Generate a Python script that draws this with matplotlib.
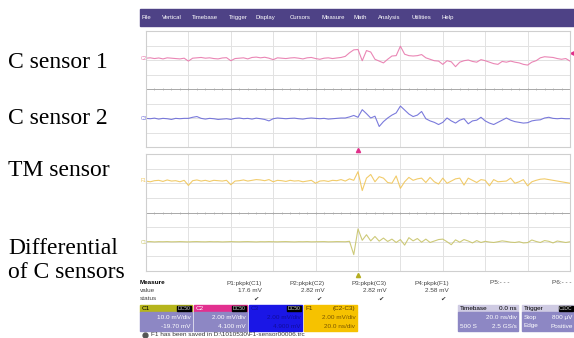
import numpy as np
import matplotlib
matplotlib.use('Agg')
import matplotlib.pyplot as plt
from matplotlib.patches import Rectangle

# timebase 20 ns/div, 10 divisions, trigger at 0
t_ns = np.linspace(-100, 100, 101)

# C sensor 1 (C2), mV
sensor1_mv = [0.05, 0.1, 0.0, 0.08, -0.05, 0.1, 0.05, 0.0, -0.05, 0.05,
              -0.35, 0.05, 0.1, 0.15, 0.05, 0.1, 0.0, -0.05, 0.08, 0.12,
              -0.3, 0.0, 0.05, 0.1, -0.05, 0.15, 0.2, 0.1, 0.18, 0.05,
              -0.15, 0.1, 0.05, 0.0, 0.08, 0.12, 0.05, -0.05, 0.1, 0.15,
              0.0, -0.1, 0.05, 0.1, 0.0, 0.08, 0.15, 0.3, 0.8, 1.2,
              1.25, -0.3, 1.1, 0.9, -0.1, -0.35, -0.6, -0.1, 0.35, 0.4,
              1.7, 0.6, 0.4, 0.35, 0.4, 0.55, 0.1, -0.1, -0.3, -0.35,
              -0.8, -0.3, -0.45, -1.12, -0.5, -0.3, -0.2, -0.4, -0.5, -0.15,
              -0.3, -0.5, -0.7, -0.8, -0.4, -0.5, -0.35, -0.5, -0.6, -0.8,
              -0.9, -0.5, -0.3, 0.1, 0.25, 0.2, 0.15, 0.0, -0.1, 0.0, -0.35]

# C sensor 2 (C3), mV
sensor2_mv = [0.05, 0.0, 0.08, -0.05, 0.05, 0.0, -0.1, 0.05, 0.0, 0.05,
              0.05, 0.2, 0.3, 0.05, -0.05, 0.05, 0.0, -0.1, -0.05, 0.0,
              -0.1, 0.05, 0.1, 0.0, 0.05, -0.05, 0.08, 0.0, -0.1, -0.3,
              0.0, 0.1, 0.05, 0.0, 0.05, 0.08, 0.0, -0.05, 0.05, 0.1,
              0.05, 0.0, 0.05, -0.05, 0.0, 0.05, 0.1, 0.1, 0.25, 0.45,
              0.2, 1.25, 0.7, 0.1, 0.35, -1.07, -0.4, 0.1, 0.5, 0.8,
              1.75, 1.2, 0.65, 0.3, 0.5, 1.0, 0.0, -0.3, -0.5, -0.8,
              -0.5, 0.1, -0.3, -0.6, -0.2, 0.0, -0.7, -0.3, -0.2, 0.2,
              -0.3, -0.6, -0.8, -0.5, -0.2, 0.1, -0.2, -0.4, -0.5, -0.6,
              -0.55, -0.3, -0.2, -0.15, 0.1, 0.2, 0.05, 0.0, 0.05, 0.0, 0.0]

# TM sensor, mV
tm_mv = [0.1, 0.0, 0.15, 0.2, 0.05, 0.25, 0.1, 0.15, 0.0, 0.2,
         -0.5, 0.15, 0.25, 0.1, 0.2, 0.05, 0.2, 0.15, 0.1, 0.2,
         -0.4, 0.1, 0.15, 0.25, 0.1, 0.2, 0.3, 0.25, 0.15, 0.3,
         0.0, 0.2, 0.15, 0.05, 0.2, 0.1, 0.15, 0.0, 0.1, 0.2,
         -0.2, 0.1, 0.15, 0.05, 0.2, 0.15, 0.3, 0.1, 0.4, 0.2,
         1.38, -1.2, 0.5, 1.0, 0.0, 0.7, 0.5, -0.1, -0.2, 0.8,
         -0.9, 0.0, 0.6, 0.2, 0.4, 0.5, -0.1, 0.6, 0.0, -0.3,
         0.5, -0.2, 0.1, 0.4, 0.5, -0.45, 0.5, 0.2, -0.1, 0.3,
         0.2, -0.55, 0.3, 0.0, 0.05, 0.1, 0.5, -0.2, 0.0, 0.3,
         -0.55, 0.0, 0.2, 0.35, 0.4, 0.3, 0.2, 0.1, 0.0, -0.1, -0.2]

# differential of C sensors, mV
diff_mv = [0.0, 0.1, -0.1, 0.05, 0.0, 0.1, -0.05, 0.0, 0.1, 0.0,
           -0.1, 0.05, 0.1, 0.0, -0.05, 0.1, 0.0, 0.05, -0.1, 0.0,
           0.1, 0.0, -0.05, 0.05, 0.1, 0.0, -0.1, 0.05, 0.0, 0.1,
           0.0, -0.05, 0.05, 0.1, 0.0, -0.1, 0.05, 0.0, 0.1, -0.05,
           0.0, 0.05, 0.1, -0.05, 0.0, 0.1, 0.05, 0.0, 0.3, -8.8,
           8.8, 1.0, 4.8, 0.6, 3.6, 0.4, 2.5, 0.2, 1.8, -0.5,
           1.5, -2.3, 2.8, 0.6, 2.2, -0.3, 1.8, -0.5, 0.5, 1.5,
           1.8, 0.0, -2.0, 1.3, -0.3, 1.5, 0.5, -0.8, 0.8, -0.5,
           0.3, -0.2, -0.5, 0.0, 0.6, 0.2, -0.3, -0.5, 0.0, -0.8,
           -0.6, 1.2, 0.2, -0.5, 0.8, 0.3, -0.8, 0.5, 0.0, -0.5, 0.0]

# trace setup: (values, mV/div, offset in div, colour, tag)
top_traces = [(sensor1_mv, 2.0, 2.1, '#e879ad', 'C2'),
              (sensor2_mv, 2.0, -2.05, '#6c6cd8', 'C3')]
bottom_traces = [(tm_mv, 2.0, 2.1, '#f0c65a', 'F1'),
                 (diff_mv, 10.0, -2.0, '#c8c46a', 'C1')]

row_labels = ['C sensor 1', 'C sensor 2', 'TM sensor', 'Differential', 'of C sensors']
label_y = [63, 118, 170, 248, 273]
menu_items = ['File', 'Vertical', 'Timebase', 'Trigger', 'Display', 'Cursors',
              'Measure', 'Math', 'Analysis', 'Utilities', 'Help']
menu_x = [142, 162, 192, 229, 256, 290, 322, 353, 378, 412, 441]

W, H = 574, 338
fig = plt.figure(figsize=(W / 100, H / 100), dpi=100)
ui = ['Liberation Sans', 'DejaVu Sans']


def px_axes(x0, y0, x1, y1):
    return fig.add_axes([x0 / W, 1 - y1 / H, (x1 - x0) / W, (y1 - y0) / H])


ov = fig.add_axes([0, 0, 1, 1])
ov.set_xlim(0, W)
ov.set_ylim(H, 0)
ov.axis('off')


def scope_panel(y0, y1, traces):
    ax = px_axes(146, y0, 570, y1)
    ax.set_xlim(-100, 100)
    ax.set_ylim(-4, 4)
    ax.set_xticks(np.arange(-100, 101, 20))
    ax.set_yticks(np.arange(-4, 5, 1))
    ax.grid(True, color='#e2e2e2', lw=0.7)
    ax.tick_params(length=0, labelbottom=False, labelleft=False)
    for s in ax.spines.values():
        s.set_color('#cfcfcf')
        s.set_linewidth(0.8)
    ax.axhline(0, color='#a9a9a9', lw=0.7)
    minor = np.arange(-100, 101, 4)
    ax.plot(minor, np.zeros_like(minor), '|', color='#a9a9a9', ms=2, mew=0.5)
    for vals, scale, off, col, tag in traces:
        ax.plot(t_ns, np.array(vals) / scale + off, color=col, lw=0.8, alpha=0.9)
    return ax


scope_panel(31, 147, top_traces)
scope_panel(154, 271, bottom_traces)

# channel tags on the left edge
for (vals, scale, off, col, tag), yc in zip(top_traces + bottom_traces, [58, 119, 181, 242]):
    ov.text(140.5, yc, tag, color=col, fontsize=3.5, family=ui, va='center', ha='left')

# trigger markers
ov.plot(358, 150, marker='^', color='#e0308a', ms=3)
ov.plot(358, 275, marker='^', color='#b5ae22', ms=3)
ov.plot(572, 53, marker='<', color='#e0308a', ms=2.5)

# menu bar
ov.add_patch(Rectangle((140, 9), 434, 17, color='#4e4286'))
for name, x in zip(menu_items, menu_x):
    ov.text(x, 17.5, name, color='white', fontsize=4.3, family=ui, va='center')

# row labels
for text, y in zip(row_labels, label_y):
    ov.text(8, y, text, fontsize=17, family=['Liberation Serif', 'DejaVu Serif'], va='center')

# measurement table
ov.text(140, 283, 'Measure', fontsize=4.6, family=ui, weight='bold', va='center')
ov.text(140, 291, 'value', fontsize=4.6, family=ui, color='#444', va='center')
ov.text(140, 299, 'status', fontsize=4.6, family=ui, color='#444', va='center')
meas = [('P1:pkpk(C1)', diff_mv, 262), ('P2:pkpk(C2)', sensor1_mv, 325),
        ('P3:pkpk(C3)', sensor2_mv, 387), ('P4:pkpk(F1)', tm_mv, 449)]
for name, vals, xr in meas:
    ov.text(xr, 283, name, fontsize=4.6, family=ui, color='#444', ha='right', va='center')
    ov.text(xr, 291, '%.3g mV' % np.ptp(vals), fontsize=4.6, family=ui, color='#444',
            ha='right', va='center')
    ov.text(xr - 3, 299, '\u2714', fontsize=4.6, family=['DejaVu Sans'], color='#333',
            ha='right', va='center')
ov.text(510, 283, 'P5:- - -', fontsize=4.6, family=ui, color='#444', ha='right', va='center')
ov.text(571, 283, 'P6:- - -', fontsize=4.6, family=ui, color='#444', ha='right', va='center')


def info_box(x0, w, head_col, body_col, name, tag, lines, txt_col, head_txt='black',
             head_right=None):
    ov.add_patch(Rectangle((x0, 305), w, 7, color=head_col))
    ov.add_patch(Rectangle((x0, 312), w, 19, color=body_col))
    ov.text(x0 + 1.5, 308.7, name, fontsize=4.6, family=ui, color=head_txt, va='center')
    if tag:
        ov.add_patch(Rectangle((x0 + w - 15, 306), 14, 5, color='black'))
        ov.text(x0 + w - 8, 308.7, tag, fontsize=3.6, family=ui, color='#d8d8d8',
                ha='center', va='center')
    if head_right:
        ov.text(x0 + w - 1.5, 308.7, head_right, fontsize=4.6, family=ui,
                color=head_txt, ha='right', va='center')
    for (left, right), y in zip(lines, [317.5, 326]):
        if left:
            ov.text(x0 + 1.5, y, left, fontsize=4.6, family=ui, color=txt_col, va='center')
        ov.text(x0 + w - 1.5, y, right, fontsize=4.6, family=ui, color=txt_col,
                ha='right', va='center')


lav = '#8d87c4'
info_box(140, 52, '#b6b51c', lav, 'C1', 'DC50',
         [('', '10.0 mV/div'), ('', '-19.70 mV')], 'white')
info_box(194, 53, '#e2308f', lav, 'C2', 'DC50',
         [('', '2.00 mV/div'), ('', '4.100 mV')], 'white', head_txt='white')
info_box(249, 53, '#1a16e6', '#1a16e6', 'C3', 'DC50',
         [('', '2.00 mV/div'), ('', '4.900 mV')], '#100c9a', head_txt='#100c9a')
info_box(304, 53, '#f6c200', '#f6c200', 'F1', None,
         [('', '2.00 mV/div'), ('', '20.0 ns/div')], '#7a5600', head_txt='#5a3c00',
         head_right='(C2-C3)')
info_box(458, 60, '#cfcbe3', lav, 'Timebase', None,
         [('', '20.0 ns/div'), ('500 S', '2.5 GS/s')], 'white', head_right='0.0 ns')
info_box(522, 52, '#cfcbe3', lav, 'Trigger', 'C1DC',
         [('Stop', '800 \u00b5V'), ('Edge', 'Positive')], 'white')

# status line
ov.plot(145, 335, marker='o', color='#555', ms=3.5)
ov.text(151, 335, 'F1 has been saved in D:\\1010530\\F1-sensor00006.trc', fontsize=4.6,
        family=ui, color='#333', va='center')

fig.savefig('out.png', dpi=100)
